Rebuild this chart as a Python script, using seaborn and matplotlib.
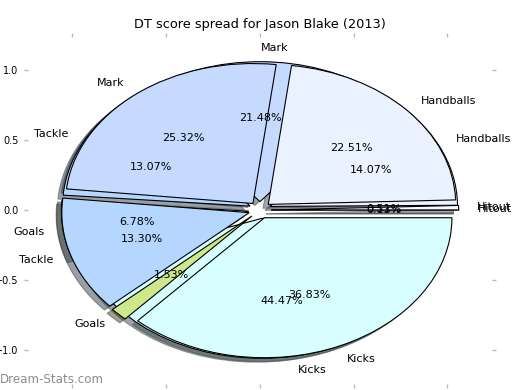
import matplotlib
matplotlib.use("Agg")
import matplotlib.pyplot as plt
import seaborn as sns

sns.set_theme(style="white")
plt.rcParams['font.family'] = ['DejaVu Sans']

categories = ['Hitout', 'Handballs', 'Mark', 'Tackle', 'Goals', 'Kicks']
spread_top = [0.51, 22.51, 25.32, 13.30, 1.53, 36.83]
spread_back = [0.13, 14.07, 21.48, 13.07, 6.78, 44.47]
slice_colors = ['#F8F8FF', '#EAF1FF', '#C6DAFF', '#B4D6FF', '#CCE88A', '#D8FFFF']
tick_values = [-1.0, -0.5, 0.0, 0.5, 1.0]

fig = plt.figure(figsize=(5.2, 3.9), dpi=100)
ax = fig.add_axes([0.0529, 0.0164, 0.894, 0.890])

for vals in (spread_back, spread_top):
    ax.pie(vals, labels=categories, colors=slice_colors,
           explode=[0.06] * len(vals), autopct='%1.2f%%', shadow=True,
           startangle=0, textprops={'fontsize': 8, 'color': 'black'},
           wedgeprops={'linewidth': 0.8, 'edgecolor': 'black'})

ax.set_aspect('auto')
ax.set_xlim(-1.24, 1.24)
ax.set_ylim(-1.24, 1.24)
ax.set_frame_on(False)
ax.set_xticks(tick_values)
ax.set_yticks(tick_values)
ax.tick_params(axis='both', which='both', color='#bbbbbb', labelsize=7,
               labelcolor='black', length=3, width=1, top=True, right=True,
               left=True, bottom=True, direction='out')
ax.set_title('DT score spread for Jason Blake (2013)', fontsize=9.3, color='black')

fig.text(0.0, 0.028, 'Dream-Stats.com', fontsize=8.6, color='#8c8c8c',
         ha='left', va='center')

fig.savefig('out.png', dpi=100)
